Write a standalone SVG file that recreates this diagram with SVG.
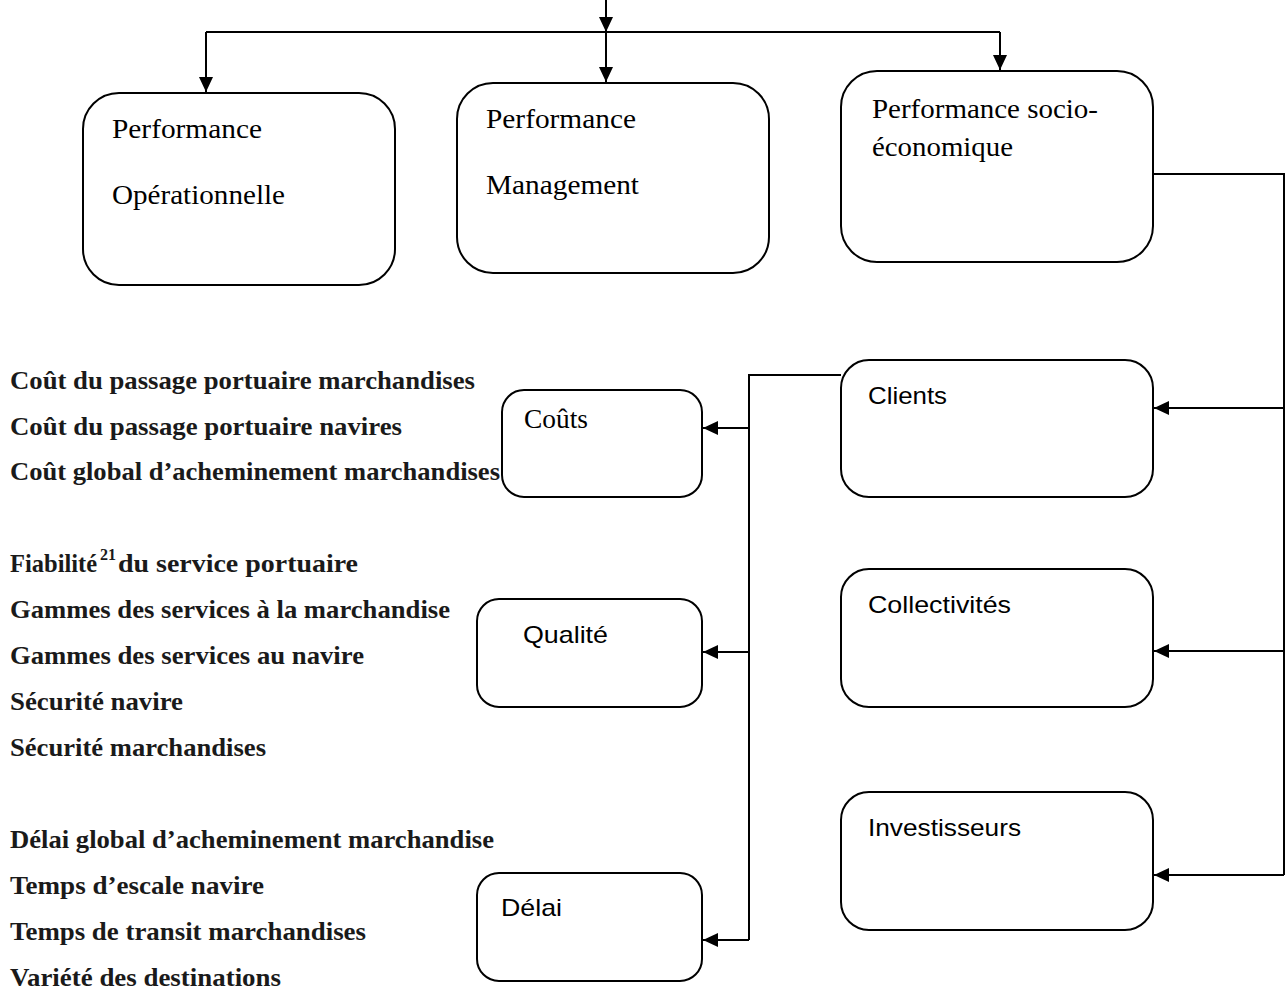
<svg xmlns="http://www.w3.org/2000/svg" width="1288" height="990" viewBox="0 0 1288 990">
  <style>
    .box { fill: #ffffff; stroke: #000000; stroke-width: 2; }
    .wire { fill: none; stroke: #000000; stroke-width: 2; }
    .serif { font-family: "Liberation Serif", "Times New Roman", serif; font-size: 27px; fill: #000000; }
    .sans { font-family: "Liberation Sans", Arial, sans-serif; font-size: 24px; fill: #000000; }
    .item { font-family: "Liberation Serif", "Times New Roman", serif; font-size: 24.5px; font-weight: bold; fill: #1a1a1a; }
    .sup { font-family: "Liberation Serif", "Times New Roman", serif; font-size: 16px; font-weight: bold; fill: #1a1a1a; }
  </style>
  <defs>
    <marker id="arrow" viewBox="0 0 15 14" refX="15" refY="7" markerWidth="15" markerHeight="14" markerUnits="userSpaceOnUse" orient="auto">
      <path d="M0,0 L15,7 L0,14 Z" fill="#000000"/>
    </marker>
  </defs>
  <rect width="1288" height="990" fill="#ffffff"/>

  <!-- connectors -->
  <g id="connectors">
    <!-- top distribution -->
    <path class="wire" d="M606,0 L606,32" marker-end="url(#arrow)"/>
    <path class="wire" d="M206,32 L1000,32"/>
    <path class="wire" d="M206,32 L206,92" marker-end="url(#arrow)"/>
    <path class="wire" d="M606,32 L606,82" marker-end="url(#arrow)"/>
    <path class="wire" d="M1000,32 L1000,70" marker-end="url(#arrow)"/>
    <!-- socio-economic to stakeholders -->
    <path class="wire" d="M1153,174 L1284,174 L1284,875"/>
    <path class="wire" d="M1284,408 L1154,408" marker-end="url(#arrow)"/>
    <path class="wire" d="M1284,651 L1154,651" marker-end="url(#arrow)"/>
    <path class="wire" d="M1284,875 L1154,875" marker-end="url(#arrow)"/>
    <!-- clients to criteria -->
    <path class="wire" d="M841,375 L749,375 L749,940"/>
    <path class="wire" d="M749,428 L703,428" marker-end="url(#arrow)"/>
    <path class="wire" d="M749,652 L703,652" marker-end="url(#arrow)"/>
    <path class="wire" d="M749,940 L703,940" marker-end="url(#arrow)"/>
  </g>

  <g id="perf-operationnelle">
    <rect class="box" x="83" y="93" width="312" height="192" rx="36"/>
    <text class="serif" x="112" y="138" textLength="150" lengthAdjust="spacingAndGlyphs">Performance</text>
    <text class="serif" x="112" y="204" textLength="173" lengthAdjust="spacingAndGlyphs">Opérationnelle</text>
  </g>

  <g id="perf-management">
    <rect class="box" x="457" y="83" width="312" height="190" rx="36"/>
    <text class="serif" x="486" y="128" textLength="150" lengthAdjust="spacingAndGlyphs">Performance</text>
    <text class="serif" x="486" y="194" textLength="153" lengthAdjust="spacingAndGlyphs">Management</text>
  </g>

  <g id="perf-socio">
    <rect class="box" x="841" y="71" width="312" height="191" rx="36"/>
    <text class="serif" x="872" y="118" textLength="226" lengthAdjust="spacingAndGlyphs">Performance socio-</text>
    <text class="serif" x="872" y="156" textLength="141" lengthAdjust="spacingAndGlyphs">économique</text>
  </g>

  <g id="clients">
    <rect class="box" x="841" y="360" width="312" height="137" rx="28"/>
    <text class="sans" x="868" y="404" textLength="79" lengthAdjust="spacingAndGlyphs">Clients</text>
  </g>

  <g id="collectivites">
    <rect class="box" x="841" y="569" width="312" height="138" rx="28"/>
    <text class="sans" x="868" y="613" textLength="143" lengthAdjust="spacingAndGlyphs">Collectivités</text>
  </g>

  <g id="investisseurs">
    <rect class="box" x="841" y="792" width="312" height="138" rx="28"/>
    <text class="sans" x="868" y="836" textLength="153" lengthAdjust="spacingAndGlyphs">Investisseurs</text>
  </g>

  <g id="couts">
    <rect class="box" x="502" y="390" width="200" height="107" rx="22"/>
    <text class="serif" x="524" y="428" font-size="24" textLength="64" lengthAdjust="spacingAndGlyphs">Coûts</text>
  </g>

  <g id="qualite">
    <rect class="box" x="477" y="599" width="225" height="108" rx="22"/>
    <text class="sans" x="523" y="643" textLength="85" lengthAdjust="spacingAndGlyphs">Qualité</text>
  </g>

  <g id="delai">
    <rect class="box" x="477" y="873" width="225" height="108" rx="22"/>
    <text class="sans" x="501" y="916" textLength="61" lengthAdjust="spacingAndGlyphs">Délai</text>
  </g>

  <!-- indicator lists -->
  <g id="indicateurs-couts">
    <text class="item" x="10" y="389" textLength="465" lengthAdjust="spacingAndGlyphs">Coût du passage portuaire marchandises</text>
    <text class="item" x="10" y="435" textLength="392" lengthAdjust="spacingAndGlyphs">Coût du passage portuaire navires</text>
    <text class="item" x="10" y="480" textLength="490" lengthAdjust="spacingAndGlyphs">Coût global d’acheminement marchandises</text>
  </g>

  <g id="indicateurs-qualite">
    <text class="item" x="10" y="572">Fiabilité</text>
    <text class="sup" x="100" y="560">21</text>
    <text class="item" x="118" y="572" textLength="240" lengthAdjust="spacingAndGlyphs">du service portuaire</text>
    <text class="item" x="10" y="618" textLength="440" lengthAdjust="spacingAndGlyphs">Gammes des services à la marchandise</text>
    <text class="item" x="10" y="664" textLength="354" lengthAdjust="spacingAndGlyphs">Gammes des services au navire</text>
    <text class="item" x="10" y="710" textLength="173" lengthAdjust="spacingAndGlyphs">Sécurité navire</text>
    <text class="item" x="10" y="756" textLength="256" lengthAdjust="spacingAndGlyphs">Sécurité marchandises</text>
  </g>

  <g id="indicateurs-delai">
    <text class="item" x="10" y="848" textLength="484" lengthAdjust="spacingAndGlyphs">Délai global d’acheminement marchandise</text>
    <text class="item" x="10" y="894" textLength="254" lengthAdjust="spacingAndGlyphs">Temps d’escale navire</text>
    <text class="item" x="10" y="940" textLength="356" lengthAdjust="spacingAndGlyphs">Temps de transit marchandises</text>
    <text class="item" x="10" y="986" textLength="271" lengthAdjust="spacingAndGlyphs">Variété des destinations</text>
  </g>
</svg>
